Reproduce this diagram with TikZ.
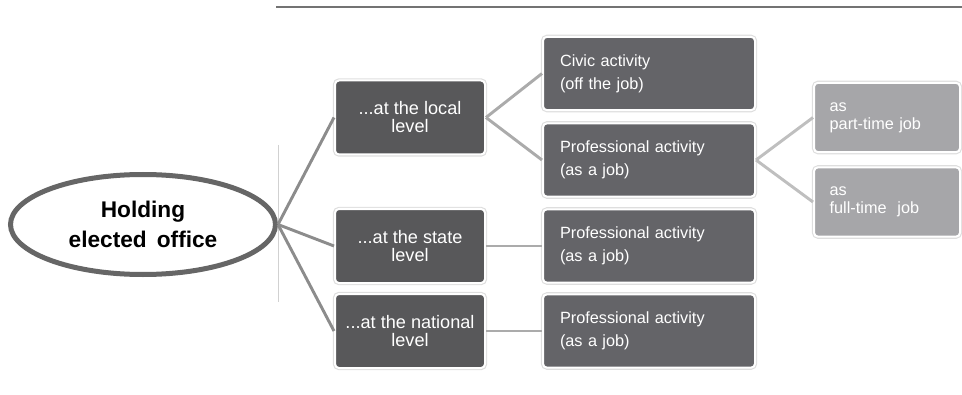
\documentclass[tikz,border=0pt]{standalone}
\usepackage{fontspec}
\setmainfont{Liberation Sans}
\usetikzlibrary{shapes.geometric}

\definecolor{levelgray}{HTML}{58585A}
\definecolor{actgray}{HTML}{646468}
\definecolor{jobgray}{HTML}{A6A6A9}
\definecolor{rimgray}{HTML}{666666}

\begin{document}
\begin{tikzpicture}[x=0.75pt, y=-0.75pt,
    box/.style={rectangle, rounded corners=3pt, draw=white, line width=1.5pt,
        preaction={draw=black!13, line width=3.2pt, rounded corners=3pt}, text=white},
    levelbox/.style={box, fill=levelgray, align=center, minimum width=112.5pt,
        minimum height=55.5pt, inner sep=0pt, font={\fontsize{13.6pt}{13.5pt}\selectfont}},
    actbox/.style={box, fill=actgray, align=left, text width=133.5pt, inner xsep=12.75pt,
        minimum height=55pt, font={\fontsize{12.2pt}{17.25pt}\selectfont}},
    jobbox/.style={box, fill=jobgray, align=left, text width=86pt, inner xsep=11.75pt,
        minimum height=52pt, font={\fontsize{12.2pt}{13.5pt}\selectfont}},
    link/.style={line width=2.2pt, color=#1},
    link/.default={black!45}]
    \useasboundingbox (0,0) rectangle (962,395);

    % Rules
    \draw[line width=1.4pt, black!55] (276,7) -- (962,7);
    \draw[line width=0.6pt, black!18] (278,145) -- (278,302);

    % Root
    \node[ellipse, draw=rimgray, line width=3.75pt, fill=white, minimum width=198.75pt,
        minimum height=75pt, inner sep=0pt, align=center,
        font={\fontsize{17pt}{22.5pt}\bfseries\selectfont}]
        (holding) at (143,224.5) {Holding\\elected\ \,office};

    % Levels
    \node[levelbox] (local) at (410,117.5) {...at the local\\level};
    \node[levelbox] (state) at (410,246) {...at the state\\level};
    \node[levelbox] (national) at (410,331) {...at the national\\level};

    % Activities
    \node[actbox] (civic) at (649,73.5) {Civic activity\\(off the job)};
    \node[actbox] (proflocal) at (649,160) {Professional activity\\(as a job)};
    \node[actbox] (profstate) at (649,246) {Professional activity\\(as a job)};
    \node[actbox] (profnational) at (649,331) {Professional activity\\(as a job)};

    % Kinds of job
    \node[jobbox] (parttime) at (887,117.5) {as\\part-time job};
    \node[jobbox] (fulltime) at (887,202) {as\\full-time\ \ job};

    % Connectors
    \draw[link] (holding.east) -- (local.west);
    \draw[link] (holding.east) -- (state.west);
    \draw[link] (holding.east) -- (national.west);

    \draw[link=black!33] (local.east) -- (civic.west);
    \draw[link=black!33] (local.east) -- (proflocal.west);
    \draw[link=black!33] (state.east) -- (profstate.west);
    \draw[link=black!33] (national.east) -- (profnational.west);

    \draw[link=black!25] (proflocal.east) -- (parttime.west);
    \draw[link=black!25] (proflocal.east) -- (fulltime.west);
\end{tikzpicture}
\end{document}
